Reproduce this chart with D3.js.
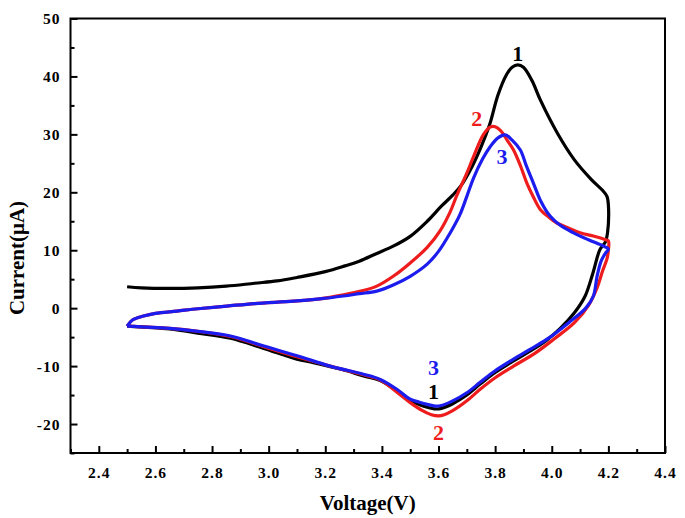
<!DOCTYPE html>
<html>
<head>
<meta charset="utf-8">
<script src="https://cdn.jsdelivr.net/npm/d3@7"></script>
<style>
  html, body { margin: 0; padding: 0; background: #fff; }
  svg { display: block; }
  text { font-family: "Liberation Serif", "Times New Roman", serif; font-weight: bold; }
</style>
</head>
<body>
<svg id="chart" width="685" height="518"></svg>
<script>
// ---- data (voltage V, current µA), in scan order: anodic 2.5 -> 4.2, then cathodic back to 2.5
const cycle1V = [2.50,2.55,2.65,2.75,2.85,2.95,3.03,3.10,3.20,3.27,3.32,3.38,3.44,3.50,3.56,3.61,3.65,3.68,3.72,3.75,3.78,3.81,3.84,3.86,3.88,3.90,3.93,3.96,4.02,4.08,4.14,4.18,4.195,4.20,4.197,
  4.19,4.17,4.145,4.118,4.08,4.03,3.98,3.92,3.865,3.80,3.747,3.70,3.65,3.61,3.59,3.56,3.53,3.50,3.453,3.394,3.335,3.26,3.158,3.10,2.98,2.865,2.75,2.65,2.50];
const cycle1I = [3.7,3.5,3.4,3.5,3.8,4.3,4.7,5.3,6.3,7.3,8.1,9.4,10.7,12.4,15.0,17.6,19.5,21.2,24.6,27.8,31.6,36.8,40.3,41.6,42.0,41.6,39.3,35.9,30.2,25.6,22.2,20.3,19.3,17.8,13.0,
  11.5,10.1,6.0,2.1,-0.8,-3.5,-5.6,-7.5,-9.1,-11.1,-13.1,-15.0,-16.5,-17.3,-17.4,-17.1,-16.6,-16.0,-14.3,-12.5,-11.7,-10.6,-9.4,-8.8,-6.9,-5.2,-4.3,-3.6,-3.1];

const cycle2V = [2.50,2.52,2.558,2.60,2.676,2.75,2.852,2.95,3.088,3.18,3.264,3.33,3.382,3.44,3.50,3.56,3.606,3.64,3.665,3.70,3.724,3.759,3.785,3.80,3.82,3.845,3.865,3.89,3.912,3.935,3.96,3.99,4.018,4.06,4.10,4.15,4.19,4.20,4.20,
  4.195,4.18,4.16,4.13,4.08,4.006,3.94,3.865,3.80,3.747,3.70,3.65,3.62,3.60,3.575,3.54,3.50,3.453,3.394,3.335,3.217,3.10,2.98,2.865,2.75,2.65,2.50];
const cycle2I = [-3.1,-2.0,-1.36,-0.9,-0.5,-0.1,0.36,0.8,1.2,1.6,2.3,3.0,3.8,5.5,7.8,10.5,13.4,16.5,19.5,23.3,26.2,30.0,31.3,31.3,30.6,28.8,27.3,24.5,21.6,19.2,17.0,15.7,14.7,13.8,13.0,12.4,11.8,11.6,10.0,
  8.5,6.5,3.5,0.5,-2.5,-5.4,-7.8,-10.0,-12.0,-14.0,-16.0,-17.7,-18.4,-18.6,-18.4,-17.6,-16.3,-14.5,-12.4,-11.5,-10.0,-8.4,-6.6,-4.9,-4.0,-3.5,-3.1];

const cycle3V = [2.50,2.52,2.558,2.60,2.676,2.75,2.852,2.95,3.088,3.18,3.264,3.32,3.382,3.44,3.50,3.56,3.60,3.64,3.676,3.70,3.724,3.755,3.783,3.81,3.836,3.86,3.889,3.91,3.935,3.96,3.994,4.03,4.077,4.13,4.183,4.20,
  4.19,4.175,4.16,4.147,4.12,4.06,3.982,3.92,3.865,3.80,3.747,3.70,3.65,3.61,3.588,3.56,3.53,3.50,3.453,3.394,3.335,3.217,3.10,2.98,2.865,2.75,2.65,2.50];
const cycle3I = [-3.1,-2.0,-1.36,-0.9,-0.5,-0.1,0.36,0.8,1.2,1.6,2.1,2.5,2.94,4.0,5.5,7.6,9.8,12.9,16.2,19.3,22.5,25.7,27.9,29.4,29.9,29.0,27.3,24.6,21.6,18.6,15.9,14.3,13.0,11.8,10.7,10.2,
  9.5,8.2,5.5,2.1,0.0,-2.5,-5.4,-7.2,-8.8,-10.8,-12.8,-14.6,-16.0,-16.8,-16.9,-16.6,-16.2,-15.7,-14.0,-12.3,-11.4,-10.0,-8.2,-6.5,-4.8,-4.0,-3.5,-3.1];

const seriesNames = ["1", "2", "3"];
const seriesColors = ["#000000", "#ee1c1c", "#1c1cee"];

const xMajorTicks = [2.4,2.6,2.8,3.0,3.2,3.4,3.6,3.8,4.0,4.2,4.4];
const xMinorTicks = [2.3,2.5,2.7,2.9,3.1,3.3,3.5,3.7,3.9,4.1,4.3];
const yMajorTicks = [-20,-10,0,10,20,30,40,50];
const yMinorTicks = [-25,-15,-5,5,15,25,35,45];

// peak labels: [series index, V, I]
const labelSeries = [0, 1, 2, 2, 0, 1];
const labelV = [3.88, 3.735, 3.824, 3.582, 3.582, 3.60];
const labelI = [44.0, 32.8, 26.2, -10.2, -14.3, -21.4];

// ---- layout
const svg = d3.select("#chart");
const L = 70.5, R = 665, T = 18.5, B = 453;
const x = d3.scaleLinear().domain([2.3, 4.4]).range([L, R]);
const y = d3.scaleLinear().domain([-25, 50]).range([B, T]);

// axes (ticks inward)
const gx = svg.append("g").attr("transform", `translate(0,${B})`);
gx.call(d3.axisBottom(x).tickValues(xMajorTicks).tickSize(-7).tickPadding(14).tickFormat(d3.format(".1f")));
const gxm = svg.append("g").attr("transform", `translate(0,${B})`);
gxm.call(d3.axisBottom(x).tickValues(xMinorTicks).tickSize(-4).tickFormat(""));
const gy = svg.append("g").attr("transform", `translate(${L},0)`);
gy.call(d3.axisLeft(y).tickValues(yMajorTicks).tickSize(-7).tickPadding(10).tickFormat(d => String(d)));
const gym = svg.append("g").attr("transform", `translate(${L},0)`);
gym.call(d3.axisLeft(y).tickValues(yMinorTicks).tickSize(-4).tickFormat(""));

svg.selectAll(".domain").remove();
svg.selectAll(".tick line").attr("stroke", "#000").attr("stroke-width", 2);
svg.selectAll(".tick text").attr("fill", "#000").style("font-size", "15.5px").style("letter-spacing", "1px");

// frame
svg.append("rect").attr("x", L).attr("y", T).attr("width", R - L).attr("height", B - T)
  .attr("fill", "none").attr("stroke", "#000").attr("stroke-width", 2);

// curves
const line = d3.line().x(d => x(d[0])).y(d => y(d[1])).curve(d3.curveCatmullRom.alpha(0.5));
const allV = [cycle1V, cycle2V, cycle3V];
const allI = [cycle1I, cycle2I, cycle3I];
allV.forEach((vs, k) => {
  const pts = vs.map((v, i) => [v, allI[k][i]]);
  svg.append("path").datum(pts).attr("d", line)
    .attr("fill", "none").attr("stroke", seriesColors[k]).attr("stroke-width", 3.2)
    .attr("stroke-linejoin", "round");
});

// peak labels
labelV.forEach((v, i) => {
  svg.append("text").attr("x", x(v)).attr("y", y(labelI[i])).attr("dy", "0.36em")
    .attr("text-anchor", "middle").attr("fill", seriesColors[labelSeries[i]])
    .style("font-size", "22px").text(seriesNames[labelSeries[i]]);
});

// axis titles
svg.append("text").attr("x", (L + R) / 2).attr("y", 503).attr("dy", "0.35em").attr("text-anchor", "middle")
  .style("font-size", "21px").text("Voltage(V)");
svg.append("text").attr("transform", "translate(17,258) rotate(-90)").attr("dy", "0.35em").attr("text-anchor", "middle")
  .style("font-size", "21px").text("Current(μA)");
</script>
</body>
</html>
